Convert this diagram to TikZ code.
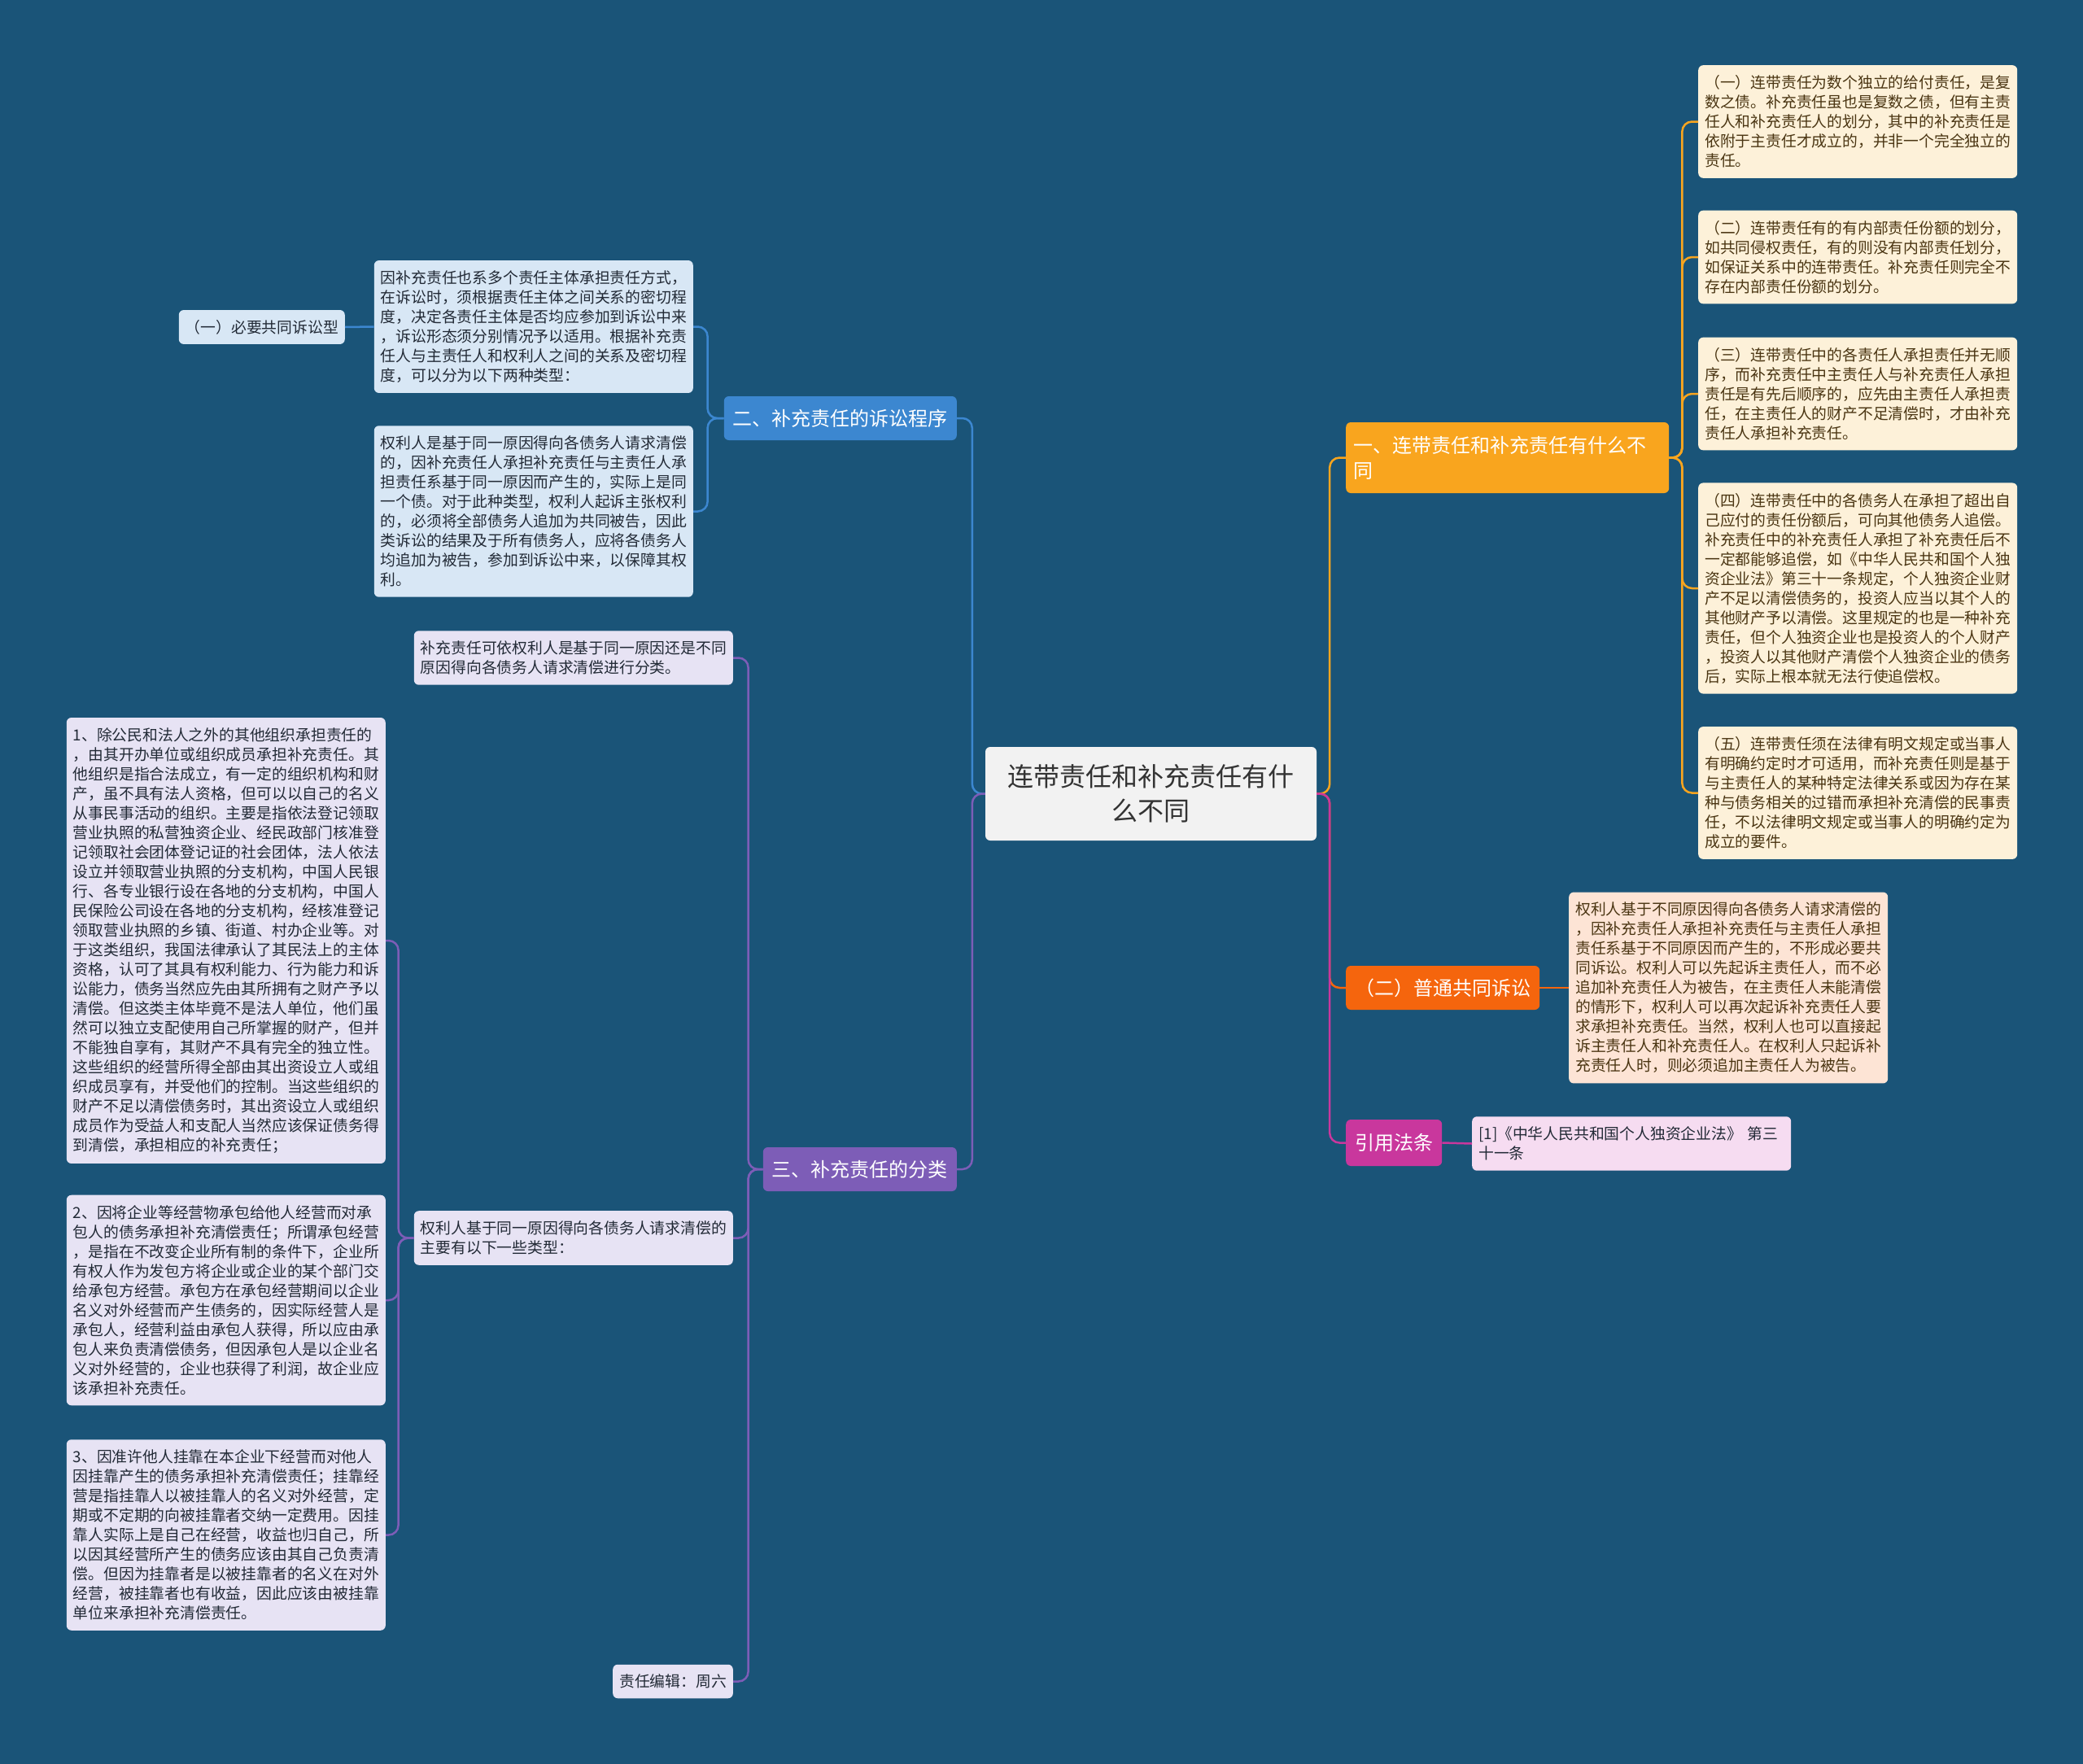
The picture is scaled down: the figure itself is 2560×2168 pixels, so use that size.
\documentclass[tikz,border=0pt]{standalone}
\usepackage{fontspec}
\setmainfont{Noto Sans CJK SC}
\usetikzlibrary{positioning}
\definecolor{bgblue}{HTML}{1A5478}
\definecolor{rootgray}{HTML}{F2F2F2}
\definecolor{rootink}{HTML}{333333}
\definecolor{amber}{HTML}{F9A51E}
\definecolor{tangerine}{HTML}{F5650D}
\definecolor{magenta}{HTML}{C9379D}
\definecolor{skyblue}{HTML}{3C87D0}
\definecolor{violet}{HTML}{7D5DB7}
\definecolor{creamleaf}{HTML}{FDF1D9}
\definecolor{peachleaf}{HTML}{FDE4D5}
\definecolor{pinkleaf}{HTML}{F6DCF1}
\definecolor{blueleaf}{HTML}{D8E7F5}
\definecolor{lavleaf}{HTML}{E7E3F4}
\definecolor{brownink}{HTML}{4A3512}
\definecolor{darkink}{HTML}{222A36}

\begin{document}
\begin{tikzpicture}[x=1pt, y=-1pt,
  rootbox/.style = {fill=rootgray, text=rootink, rounded corners=6pt, align=center,
    minimum width=407pt, minimum height=115pt, font=\fontsize{32}{42}\selectfont},
  branchbox/.style = {rounded corners=6pt, text=white, inner xsep=11pt,
    minimum height=54pt, font=\fontsize{24}{31}\selectfont},
  leafbox/.style = {rounded corners=6pt, align=left, text width=376pt,
    inner xsep=8pt, inner ysep=12.5pt, font=\fontsize{18.8}{24}\selectfont},
  tagbox/.style = {rounded corners=6pt, inner xsep=8pt, inner ysep=12pt,
    font=\fontsize{18.8}{24}\selectfont},
  link/.style = {line width=2.5pt, rounded corners=12pt},
]
\fill[bgblue] (0,0) rectangle (2560,2168);

% centre
\node[rootbox] (root) at (1414.5,975.5) {连带责任和补充责任有什\\么不同};

% right side
\node[branchbox, fill=amber, anchor=west, align=left, text width=378pt, inner xsep=9.5pt,
  minimum height=87pt] (diff) at (1654,562.5) {一、连带责任和补充责任有什么不\\同};
\node[branchbox, fill=tangerine, anchor=west] (common) at (1654,1214) {（二）普通共同诉讼};
\node[branchbox, fill=magenta, anchor=west, minimum height=57pt] (cite) at (1654,1404.5) {引用法条};

\node[leafbox, fill=creamleaf, text=brownink, anchor=west] (diffa) at (2087,149.5)
  {（一）连带责任为数个独立的给付责任，是复\\数之债。补充责任虽也是复数之债，但有主责\\任人和补充责任人的划分，其中的补充责任是\\依附于主责任才成立的，并非一个完全独立的\\责任。};
\node[leafbox, fill=creamleaf, text=brownink, anchor=west] (diffb) at (2087,316)
  {（二）连带责任有的有内部责任份额的划分，\\如共同侵权责任，有的则没有内部责任划分，\\如保证关系中的连带责任。补充责任则完全不\\存在内部责任份额的划分。};
\node[leafbox, fill=creamleaf, text=brownink, anchor=west] (diffc) at (2087,484)
  {（三）连带责任中的各责任人承担责任并无顺\\序，而补充责任中主责任人与补充责任人承担\\责任是有先后顺序的，应先由主责任人承担责\\任，在主责任人的财产不足清偿时，才由补充\\责任人承担补充责任。};
\node[leafbox, fill=creamleaf, text=brownink, anchor=west] (diffd) at (2087,723)
  {（四）连带责任中的各债务人在承担了超出自\\己应付的责任份额后，可向其他债务人追偿。\\补充责任中的补充责任人承担了补充责任后不\\一定都能够追偿，如《中华人民共和国个人独\\资企业法》第三十一条规定，个人独资企业财\\产不足以清偿债务的，投资人应当以其个人的\\其他财产予以清偿。这里规定的也是一种补充\\责任，但个人独资企业也是投资人的个人财产\\，投资人以其他财产清偿个人独资企业的债务\\后，实际上根本就无法行使追偿权。};
\node[leafbox, fill=creamleaf, text=brownink, anchor=west] (diffe) at (2087,974.5)
  {（五）连带责任须在法律有明文规定或当事人\\有明确约定时才可适用，而补充责任则是基于\\与主责任人的某种特定法律关系或因为存在某\\种与债务相关的过错而承担补充清偿的民事责\\任，不以法律明文规定或当事人的明确约定为\\成立的要件。};

\node[leafbox, fill=peachleaf, text=brownink, anchor=west] (commona) at (1928,1214)
  {权利人基于不同原因得向各债务人请求清偿的\\，因补充责任人承担补充责任与主责任人承担\\责任系基于不同原因而产生的，不形成必要共\\同诉讼。权利人可以先起诉主责任人，而不必\\追加补充责任人为被告，在主责任人未能清偿\\的情形下，权利人可以再次起诉补充责任人要\\求承担补充责任。当然，权利人也可以直接起\\诉主责任人和补充责任人。在权利人只起诉补\\充责任人时，则必须追加主责任人为被告。};
\node[leafbox, fill=pinkleaf, text=darkink, anchor=west] (citea) at (1809,1405.5)
  {[1]《中华人民共和国个人独资企业法》 第三\\十一条};

% left side
\node[branchbox, fill=skyblue, anchor=east] (proc) at (1176,514) {二、补充责任的诉讼程序};
\node[branchbox, fill=violet, anchor=east] (kind) at (1176,1437) {三、补充责任的分类};

\node[leafbox, fill=blueleaf, text=darkink, anchor=east] (proca) at (852,401.5)
  {因补充责任也系多个责任主体承担责任方式，\\在诉讼时，须根据责任主体之间关系的密切程\\度，决定各责任主体是否均应参加到诉讼中来\\，诉讼形态须分别情况予以适用。根据补充责\\任人与主责任人和权利人之间的关系及密切程\\度，可以分为以下两种类型：};
\node[leafbox, fill=blueleaf, text=darkink, anchor=east] (procb) at (852,628.5)
  {权利人是基于同一原因得向各债务人请求清偿\\的，因补充责任人承担补充责任与主责任人承\\担责任系基于同一原因而产生的，实际上是同\\一个债。对于此种类型，权利人起诉主张权利\\的，必须将全部债务人追加为共同被告，因此\\类诉讼的结果及于所有债务人，应将各债务人\\均追加为被告，参加到诉讼中来，以保障其权\\利。};
\node[tagbox, fill=blueleaf, text=darkink, anchor=east] (needed) at (424,402)
  {（一）必要共同诉讼型};

\node[leafbox, fill=lavleaf, text=darkink, anchor=east] (kinda) at (901,808.5)
  {补充责任可依权利人是基于同一原因还是不同\\原因得向各债务人请求清偿进行分类。};
\node[leafbox, fill=lavleaf, text=darkink, anchor=east] (kindb) at (901,1521.5)
  {权利人基于同一原因得向各债务人请求清偿的\\主要有以下一些类型：};
\node[tagbox, fill=lavleaf, text=darkink, anchor=east] (editor) at (901,2066.5)
  {责任编辑：周六};

\node[leafbox, fill=lavleaf, text=darkink, anchor=east] (typea) at (474,1156)
  {1、除公民和法人之外的其他组织承担责任的\\，由其开办单位或组织成员承担补充责任。其\\他组织是指合法成立，有一定的组织机构和财\\产，虽不具有法人资格，但可以以自己的名义\\从事民事活动的组织。主要是指依法登记领取\\营业执照的私营独资企业、经民政部门核准登\\记领取社会团体登记证的社会团体，法人依法\\设立并领取营业执照的分支机构，中国人民银\\行、各专业银行设在各地的分支机构，中国人\\民保险公司设在各地的分支机构，经核准登记\\领取营业执照的乡镇、街道、村办企业等。对\\于这类组织，我国法律承认了其民法上的主体\\资格，认可了其具有权利能力、行为能力和诉\\讼能力，债务当然应先由其所拥有之财产予以\\清偿。但这类主体毕竟不是法人单位，他们虽\\然可以独立支配使用自己所掌握的财产，但并\\不能独自享有，其财产不具有完全的独立性。\\这些组织的经营所得全部由其出资设立人或组\\织成员享有，并受他们的控制。当这些组织的\\财产不足以清偿债务时，其出资设立人或组织\\成员作为受益人和支配人当然应该保证债务得\\到清偿，承担相应的补充责任；};
\node[leafbox, fill=lavleaf, text=darkink, anchor=east] (typeb) at (474,1598)
  {2、因将企业等经营物承包给他人经营而对承\\包人的债务承担补充清偿责任；所谓承包经营\\，是指在不改变企业所有制的条件下，企业所\\有权人作为发包方将企业或企业的某个部门交\\给承包方经营。承包方在承包经营期间以企业\\名义对外经营而产生债务的，因实际经营人是\\承包人，经营利益由承包人获得，所以应由承\\包人来负责清偿债务，但因承包人是以企业名\\义对外经营的，企业也获得了利润，故企业应\\该承担补充责任。};
\node[leafbox, fill=lavleaf, text=darkink, anchor=east] (typec) at (474,1886.5)
  {3、因准许他人挂靠在本企业下经营而对他人\\因挂靠产生的债务承担补充清偿责任；挂靠经\\营是指挂靠人以被挂靠人的名义对外经营，定\\期或不定期的向被挂靠者交纳一定费用。因挂\\靠人实际上是自己在经营，收益也归自己，所\\以因其经营所产生的债务应该由其自己负责清\\偿。但因为挂靠者是以被挂靠者的名义在对外\\经营，被挂靠者也有收益，因此应该由被挂靠\\单位来承担补充清偿责任。};

% connectors
\draw[link, amber] (root.east) -- ++(16,0) |- (diff.west);
\draw[link, tangerine] (root.east) -- ++(16,0) |- (common.west);
\draw[link, magenta] (root.east) -- ++(16,0) |- (cite.west);
\foreach \leaf in {diffa,diffb,diffc,diffd,diffe}
  \draw[link, amber] (diff.east) -- ++(16,0) |- (\leaf.west);
\draw[link, tangerine] (common.east) -- (commona.west);
\draw[link, magenta] (cite.east) -- (citea.west);

\draw[link, skyblue] (root.west) -- ++(-16,0) |- (proc.east);
\draw[link, violet] (root.west) -- ++(-16,0) |- (kind.east);
\foreach \leaf in {proca,procb}
  \draw[link, skyblue] (proc.west) -- ++(-20,0) |- (\leaf.east);
\draw[link, skyblue] (proca.west) -- (needed.east);
\foreach \leaf in {kinda,kindb,editor}
  \draw[link, violet] (kind.west) -- ++(-18,0) |- (\leaf.east);
\foreach \leaf in {typea,typeb,typec}
  \draw[link, violet] (kindb.west) -- ++(-19,0) |- (\leaf.east);
\end{tikzpicture}
\end{document}
